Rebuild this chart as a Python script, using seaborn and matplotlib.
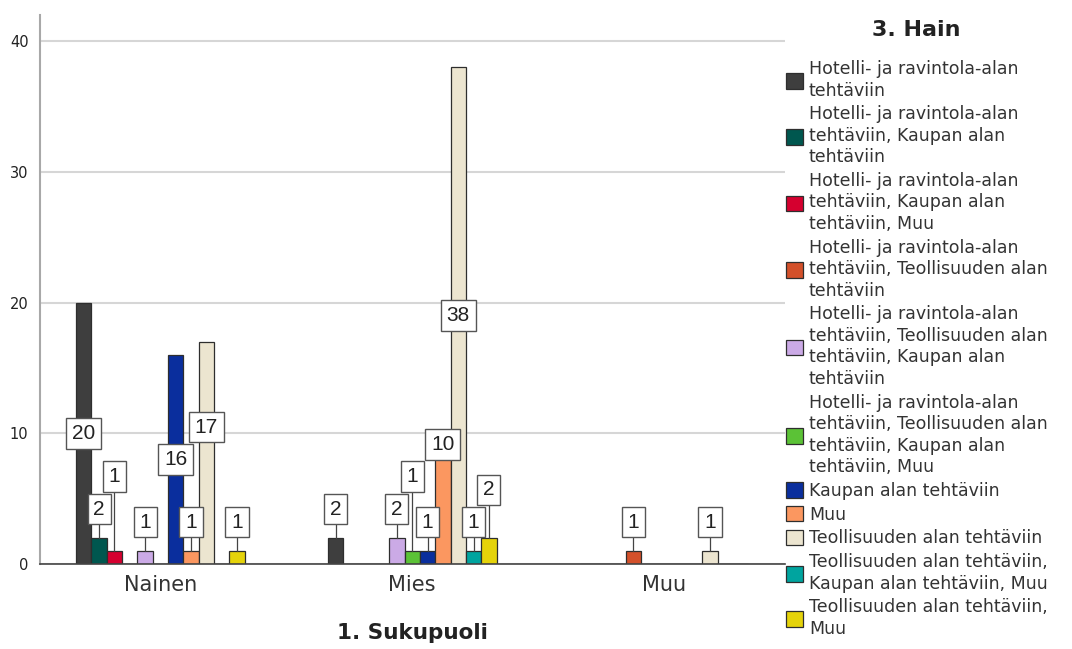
"""Ryhmitelty pylväskaavio: 3. Hain sukupuolen mukaan."""
import textwrap

import matplotlib
matplotlib.use("Agg")
import matplotlib.pyplot as plt
import pandas as pd
import seaborn as sns

# Data luettu kuvasta
groups = ["Nainen", "Mies", "Muu"]
categories = [
    "Hotelli- ja ravintola-alan tehtäviin",
    "Hotelli- ja ravintola-alan tehtäviin, Kaupan alan tehtäviin",
    "Hotelli- ja ravintola-alan tehtäviin, Kaupan alan tehtäviin, Muu",
    "Hotelli- ja ravintola-alan tehtäviin, Teollisuuden alan tehtäviin",
    "Hotelli- ja ravintola-alan tehtäviin, Teollisuuden alan tehtäviin, Kaupan alan tehtäviin",
    "Hotelli- ja ravintola-alan tehtäviin, Teollisuuden alan tehtäviin, Kaupan alan tehtäviin, Muu",
    "Kaupan alan tehtäviin",
    "Muu",
    "Teollisuuden alan tehtäviin",
    "Teollisuuden alan tehtäviin, Kaupan alan tehtäviin, Muu",
    "Teollisuuden alan tehtäviin, Muu",
]
nainen = [20, 2, 1, 0, 1, 0, 16, 1, 17, 0, 1]
mies = [2, 0, 0, 0, 2, 1, 1, 10, 38, 1, 2]
muu = [0, 0, 0, 1, 0, 0, 0, 0, 1, 0, 0]
colors = ["#3e3e3e", "#00574f", "#d5002f", "#d3502a", "#cbaae6", "#5bc236",
          "#0a2e9d", "#fb9760", "#ece5d0", "#00a49f", "#e5d30a"]

rows = []
for g, vals in zip(groups, [nainen, mies, muu]):
    for c, v in zip(categories, vals):
        rows.append({"Sukupuoli": g, "Hain": c, "n": v})
df = pd.DataFrame(rows)

sns.set_style("white")
plt.rcParams["font.family"] = ["DejaVu Sans"]

W, H = 1072, 649
fig = plt.figure(figsize=(W / 100, H / 100), dpi=100)
ax = fig.add_axes([0.037, 0.131, 0.695, 0.846])

sns.barplot(data=df, x="Sukupuoli", y="n", hue="Hain", order=groups,
            hue_order=categories, palette=colors, width=0.67, saturation=1,
            edgecolor="#2e2e2e", linewidth=0.9, errorbar=None, ax=ax, zorder=2)

xlim = (-0.48, 2.48)
ylim = (0, 42)
ax.set_xlim(*xlim)
ax.set_ylim(*ylim)

# pikselit per data-yksikkö
px_x = 0.695 * W / (xlim[1] - xlim[0])
px_y = 0.846 * H / (ylim[1] - ylim[0])

# Arvolaatikot, päällekkäisyydet siirretään ylöspäin
bars = sorted((b for c in ax.containers for b in c if b.get_height() > 0),
              key=lambda b: b.get_x())
box_h = 31 / px_y
placed = []
box = dict(boxstyle="square,pad=0.28", fc="white", ec="#555555", lw=1)
for bar in bars:
    v = bar.get_height()
    x = bar.get_x() + bar.get_width() / 2
    bw = (34 if v >= 10 else 24) / px_x
    ly = v / 2 if v >= 10 else v + 2.2
    moved = True
    while moved:
        moved = False
        for px, py, pw in placed:
            if abs(px - x) < (pw + bw) / 2 + 4 / px_x and abs(py - ly) < box_h:
                ly = py + box_h + 0.1
                moved = True
    placed.append((x, ly, bw))
    if v < 10:
        ax.plot([x, x], [v, ly], color="#444444", lw=0.9, zorder=3)
    ax.text(x, ly, f"{v:.0f}", ha="center", va="center", fontsize=15,
            family="Liberation Sans", color="#222222", bbox=box, zorder=4)

ax.set_yticks([0, 10, 20, 30, 40])
ax.grid(axis="y", color="#d6d6d6", lw=1.5, zorder=0)
ax.set_axisbelow(True)
for s in ["top", "right"]:
    ax.spines[s].set_visible(False)
ax.spines["left"].set_color("#a8a8a8")
ax.spines["left"].set_linewidth(1.5)
ax.spines["bottom"].set_color("#444444")
ax.spines["bottom"].set_linewidth(1.2)
ax.tick_params(axis="y", length=4, color="#c8c8c8", labelsize=10.5, labelcolor="#222222", pad=4)
ax.tick_params(axis="x", length=0, labelsize=15, labelcolor="#333333", pad=8)
ax.set_xlabel("1. Sukupuoli", fontsize=15.5, fontweight="bold", color="#222222", labelpad=20)
ax.set_ylabel("")

handles, _ = ax.get_legend_handles_labels()
labels = [textwrap.fill(c, 30, break_on_hyphens=False) for c in categories]
ax.get_legend().remove()
leg = fig.legend(handles, labels, loc="upper left",
                 bbox_to_anchor=(786 / W, 1 - 60 / H), frameon=False,
                 fontsize=12.5, handlelength=1.0, handleheight=1.0, handletextpad=0.32,
                 labelspacing=0.33, borderpad=0, borderaxespad=0)
for t in leg.get_texts():
    t.set_color("#333333")
    t.set_linespacing(1.25)
fig.text(916 / W, 1 - 30 / H, "3. Hain", ha="center", va="center",
         fontsize=16, fontweight="bold", color="#222222")

fig.savefig("out.png", dpi=100)
